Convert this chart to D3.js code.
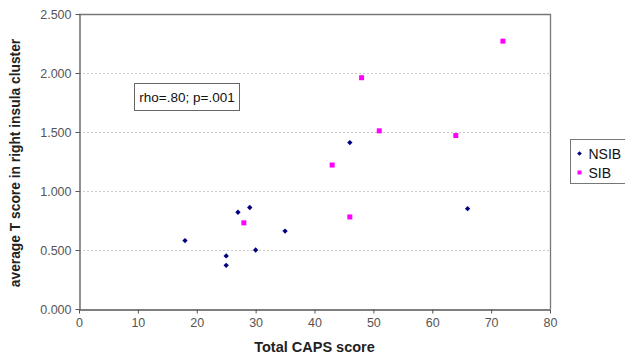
<!DOCTYPE html>
<html>
<head>
<meta charset="utf-8">
<script src="https://cdn.jsdelivr.net/npm/d3@7"></script>
<style>
  body { margin: 0; background: #fff; }
  svg { display: block; font-family: "Liberation Sans", Arial, sans-serif; }
</style>
</head>
<body>
<div id="chart"></div>
<script>
  // data
  var nsibX = [18, 25, 25, 27, 29, 30, 35, 46, 66];
  var nsibY = [0.58, 0.45, 0.37, 0.82, 0.86, 0.50, 0.66, 1.41, 0.85];
  var sibX  = [28, 43, 48, 51, 46, 64, 72];
  var sibY  = [0.73, 1.22, 1.96, 1.51, 0.78, 1.47, 2.27];
  var xTicks = [0, 10, 20, 30, 40, 50, 60, 70, 80];
  var yTicks = [0, 0.5, 1.0, 1.5, 2.0, 2.5];
  var seriesNames = ['NSIB', 'SIB'];
  var note = 'rho=.80; p=.001';

  var width = 625, height = 355;
  var area = { left: 79, top: 14, right: 550, bottom: 309 };

  var svg = d3.select('#chart').append('svg')
    .attr('width', width)
    .attr('height', height);

  var x = d3.scaleLinear().domain([0, 80]).range([area.left, area.right]);
  var y = d3.scaleLinear().domain([0, 2.5]).range([area.bottom, area.top]);

  // gridlines
  svg.append('g')
    .selectAll('line')
    .data(yTicks.filter(function(d) { return d > 0 && d < 2.5; }))
    .enter().append('line')
      .attr('x1', area.left)
      .attr('x2', area.right)
      .attr('y1', function(d) { return Math.round(y(d)) + 0.5; })
      .attr('y2', function(d) { return Math.round(y(d)) + 0.5; })
      .attr('stroke', '#cccccc')
      .attr('stroke-dasharray', '2,2')
      .attr('stroke-width', 1);

  // plot frame (top & right)
  svg.append('path')
    .attr('d', 'M' + area.left + ',' + (area.top + 0.5) + 'H' + (area.right + 0.5) + 'V' + area.bottom)
    .attr('fill', 'none')
    .attr('stroke', '#777')
    .attr('stroke-width', 1.3);

  var xAxis = d3.axisBottom(x).tickValues(xTicks).tickSize(4).tickSizeOuter(0).tickPadding(5);
  var gx = svg.append('g')
    .attr('transform', 'translate(0,' + (area.bottom + 0.5) + ')')
    .call(xAxis);

  var yAxis = d3.axisLeft(y).tickValues(yTicks).tickSize(4).tickSizeOuter(0).tickPadding(4)
    .tickFormat(d3.format('.3f'));
  var gy = svg.append('g')
    .attr('transform', 'translate(' + (area.left + 0.5) + ',0)')
    .call(yAxis);

  [gx, gy].forEach(function(g) {
    g.select('.domain').attr('stroke', '#555').attr('stroke-width', 1.3);
    g.selectAll('.tick line').attr('stroke', '#555');
    g.selectAll('text')
      .attr('fill', '#555')
      .style('font-size', '12.5px')
      .style('font-family', '"Liberation Sans", Arial, sans-serif');
  });

  // series
  svg.append('g').selectAll('path')
    .data(nsibX.map(function(d, i) { return [d, nsibY[i]]; }))
    .enter().append('path')
      .attr('transform', function(d) { return 'translate(' + x(d[0]) + ',' + y(d[1]) + ')'; })
      .attr('d', d3.symbol().type(d3.symbolDiamond2).size(18)())
      .attr('fill', '#000080');

  svg.append('g').selectAll('rect')
    .data(sibX.map(function(d, i) { return [d, sibY[i]]; }))
    .enter().append('rect')
      .attr('x', function(d) { return x(d[0]) - 2.5; })
      .attr('y', function(d) { return y(d[1]) - 2.5; })
      .attr('width', 5)
      .attr('height', 5)
      .attr('fill', '#ff00ff');

  // annotation box
  var noteG = svg.append('g').attr('transform', 'translate(134.5,83.5)');
  noteG.append('rect')
    .attr('width', 105).attr('height', 27)
    .attr('fill', '#fff').attr('stroke', '#666');
  noteG.append('text')
    .attr('x', 52.5).attr('y', 18.5)
    .attr('text-anchor', 'middle')
    .style('font-size', '13.5px')
    .attr('fill', '#111')
    .text(note);

  // axis titles
  svg.append('text')
    .attr('x', 314.5)
    .attr('y', 352)
    .attr('text-anchor', 'middle')
    .style('font-size', '14.5px')
    .style('font-weight', 'bold')
    .attr('fill', '#222')
    .text('Total CAPS score');

  svg.append('text')
    .attr('transform', 'translate(20,' + 163 + ') rotate(-90)')
    .attr('text-anchor', 'middle')
    .style('font-size', '13.8px')
    .style('font-weight', 'bold')
    .attr('fill', '#222')
    .text('average T score in right insula cluster');

  // legend
  var leg = svg.append('g').attr('transform', 'translate(570.5,139.5)');
  leg.append('rect')
    .attr('width', 60).attr('height', 44)
    .attr('fill', '#fff').attr('stroke', '#777');
  var item = leg.selectAll('g.item')
    .data(seriesNames)
    .enter().append('g')
      .attr('class', 'item')
      .attr('transform', function(d, i) { return 'translate(0,' + (14 + i * 19) + ')'; });
  item.each(function(d, i) {
    var g = d3.select(this);
    if (i === 0) {
      g.append('path')
        .attr('transform', 'translate(9,0)')
        .attr('d', d3.symbol().type(d3.symbolDiamond2).size(14)())
        .attr('fill', '#000080');
    } else {
      g.append('rect')
        .attr('x', 7).attr('y', -2).attr('width', 4).attr('height', 4)
        .attr('fill', '#ff00ff');
    }
    g.append('text')
      .attr('x', 18).attr('y', 5)
      .style('font-size', '14px')
      .attr('fill', '#111')
      .text(d);
  });
</script>
</body>
</html>
